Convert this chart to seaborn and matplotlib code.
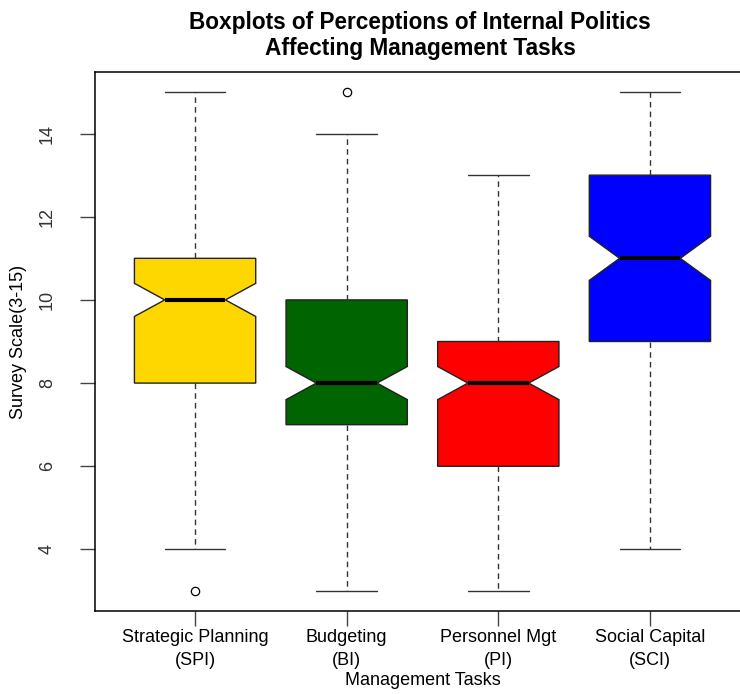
import numpy as np
import pandas as pd
import matplotlib
matplotlib.use("Agg")
import matplotlib.pyplot as plt
import seaborn as sns

# Survey scale values and number of respondents at each value, per task
scale = [3, 4, 5, 6, 7, 8, 9, 10, 11, 12, 13, 14, 15]
spi_counts = [1, 3, 5, 8, 14, 14, 20, 25, 25, 12, 7, 4, 2]
bi_counts = [2, 3, 6, 14, 22, 28, 25, 18, 10, 6, 3, 2, 1]
pi_counts = [3, 7, 14, 20, 22, 24, 25, 12, 7, 4, 2, 0, 0]
sci_counts = [0, 2, 3, 5, 8, 12, 16, 20, 22, 15, 20, 10, 7]

tasks = ["Strategic Planning\n(SPI)", "Budgeting\n(BI)", "Personnel Mgt\n(PI)", "Social Capital\n(SCI)"]
colors = ["#FFD700", "#006400", "#FF0000", "#0000FF"]

frames = []
for task, counts in zip(tasks, [spi_counts, bi_counts, pi_counts, sci_counts]):
    frames.append(pd.DataFrame({"task": task, "score": np.repeat(scale, counts)}))
df = pd.concat(frames, ignore_index=True)

sns.set_style("white")
plt.rcParams["font.family"] = ["Liberation Sans", "DejaVu Sans"]
plt.rcParams["text.color"] = "black"
plt.rcParams["axes.labelcolor"] = "black"
plt.rcParams["xtick.color"] = "black"
plt.rcParams["ytick.color"] = "black"

fig = plt.figure(figsize=(7.4, 6.94), dpi=100)
ax = fig.add_axes([95 / 740, 1 - 611 / 694, (750 - 95) / 740, (611 - 72) / 694])

sns.boxplot(
    data=df, x="task", y="score", hue="task", palette=colors, legend=False,
    order=tasks, hue_order=tasks, notch=True, width=0.8, whis=1.5, ax=ax,
    saturation=1,
    boxprops=dict(edgecolor="#222222", linewidth=1.0),
    medianprops=dict(color="black", linewidth=3),
    whiskerprops=dict(color="#333333", linestyle=(0, (4, 3)), linewidth=1.0),
    capprops=dict(color="#333333", linewidth=1.0),
    flierprops=dict(marker="o", markerfacecolor="white", markeredgecolor="black",
                    markersize=6, markeredgewidth=0.9),
)

ax.set_xlim(-0.66, 3.66)
ax.set_ylim(2.52, 15.48)
ax.set_yticks([4, 6, 8, 10, 12, 14])
ax.set_yticklabels(["4", "6", "8", "10", "12", "14"], rotation=90, va="center", fontsize=13)
ax.set_xticks(range(4))
ax.set_xticklabels(tasks, fontsize=13, linespacing=1.45)
ax.tick_params(axis="both", direction="out", length=11, width=1, color="#444444",
               bottom=True, left=True)
ax.tick_params(axis="x", pad=2)
ax.tick_params(axis="y", pad=17)
for lbl in ax.get_yticklabels():
    lbl.set_color("#333333")

for side in ["left", "bottom", "top", "right"]:
    ax.spines[side].set_visible(True)
    ax.spines[side].set_color("black")
    ax.spines[side].set_linewidth(1.1)

ax.set_xlabel("Management Tasks", fontsize=13, labelpad=2)
ax.set_ylabel("")
fig.text(19 / 740, 1 - 342 / 694, "Survey Scale(3-15)", rotation=90,
         ha="center", va="center", fontsize=13)
fig.suptitle("Boxplots of Perceptions of Internal Politics\nAffecting Management Tasks",
             fontsize=16.3, fontweight="bold", x=420 / 740, y=0.984, linespacing=1.15)

fig.savefig("out.png", dpi=100, facecolor="white")
